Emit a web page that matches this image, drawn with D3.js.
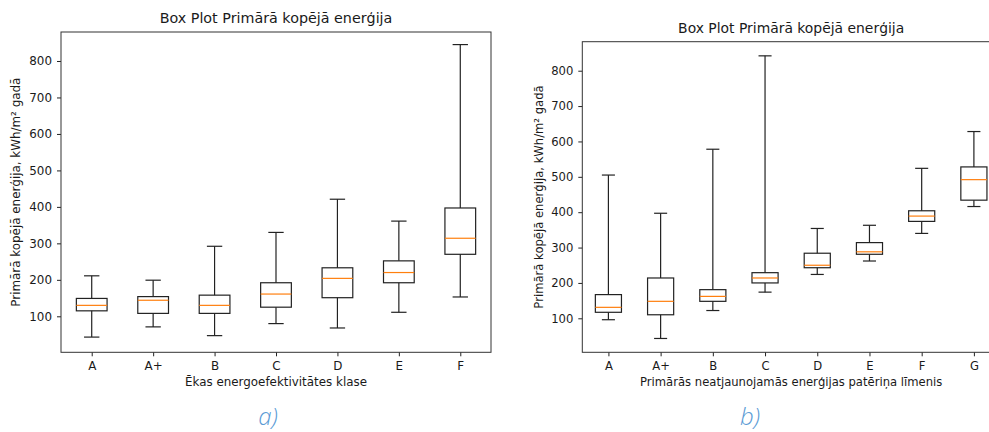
<!DOCTYPE html>
<html>
<head>
<meta charset="utf-8">
<script src="https://cdn.jsdelivr.net/npm/d3@7"></script>
<style>
  html, body { margin: 0; padding: 0; background: #fff; }
  svg { display: block; }
  text { font-family: "DejaVu Sans", sans-serif; fill: #1a1a1a; }
</style>
</head>
<body>
<svg id="chart" width="989" height="432"></svg>
<script>
// Panel a) — building energy-efficiency class
const classesA = ["A", "A+", "B", "C", "D", "E", "F"];
const minA = [43, 71, 47, 80, 68, 111, 153];
const q1A  = [115, 108, 108, 125, 151, 192, 270];
const medA = [130, 144, 130, 161, 204, 220, 314];
const q3A  = [149, 154, 158, 192, 233, 252, 397];
const maxA = [211, 199, 292, 330, 421, 361, 845];

// Panel b) — primary non-renewable energy consumption level
const classesB = ["A", "A+", "B", "C", "D", "E", "F", "G"];
const minB = [96, 43, 122, 174, 224, 262, 340, 416];
const q1B  = [117, 110, 148, 200, 243, 281, 374, 434];
const medB = [131, 148, 162, 214, 250, 288, 389, 492];
const q3B  = [167, 214, 181, 229, 284, 314, 404, 528];
const maxB = [505, 397, 578, 842, 354, 363, 524, 628];

const yTicks = [100, 200, 300, 400, 500, 600, 700, 800];

const title = "Box Plot Primārā kopējā enerģija";
const yLabel = "Primārā kopējā enerģija, kWh/m² gadā";
const xLabelA = "Ēkas energoefektivitātes klase";
const xLabelB = "Primārās neatjaunojamās enerģijas patēriņa līmenis";

const svg = d3.select("#chart");

function boxPanel(cfg) {
  const { left, right, top, bottom, yDomain, cats, mins, q1s, meds, q3s, maxs,
          titleY, xLabel, xLabelY, yLabelX, caption, captionX, fs, titleFs } = cfg;

  const g = svg.append("g");
  const n = cats.length;
  const x = d3.scaleLinear().domain([0.5, n + 0.5]).range([left, right]);
  const y = d3.scaleLinear().domain(yDomain).range([bottom, top]);
  const unit = x(2) - x(1);
  const boxW = unit * 0.5, capW = unit * 0.25;

  const rows = cats.map((c, i) => ({
    c, pos: i + 1, lo: mins[i], q1: q1s[i], med: meds[i], q3: q3s[i], hi: maxs[i]
  }));

  // axes
  const xAxis = d3.axisBottom(x)
    .tickValues(rows.map(r => r.pos))
    .tickFormat((d, i) => cats[i])
    .tickSize(4).tickPadding(5).tickSizeOuter(0);
  const yAxis = d3.axisLeft(y)
    .tickValues(yTicks).tickFormat(d3.format("d"))
    .tickSize(4).tickPadding(5).tickSizeOuter(0);

  const gx = g.append("g").attr("transform", `translate(0,${bottom})`).call(xAxis);
  const gy = g.append("g").attr("transform", `translate(${left},0)`).call(yAxis);
  [gx, gy].forEach(a => {
    a.select(".domain").remove();
    a.selectAll(".tick line").attr("stroke", "#222").attr("stroke-width", 1);
    a.selectAll(".tick text").attr("font-size", fs).attr("font-family", "DejaVu Sans").attr("fill", "#1a1a1a");
  });

  // whiskers, caps, boxes, medians
  const b = g.append("g").selectAll("g").data(rows).join("g");
  b.append("line")
    .attr("x1", d => x(d.pos)).attr("x2", d => x(d.pos))
    .attr("y1", d => y(d.lo)).attr("y2", d => y(d.q1));
  b.append("line")
    .attr("x1", d => x(d.pos)).attr("x2", d => x(d.pos))
    .attr("y1", d => y(d.q3)).attr("y2", d => y(d.hi));
  b.append("line")
    .attr("x1", d => x(d.pos) - capW / 2).attr("x2", d => x(d.pos) + capW / 2)
    .attr("y1", d => y(d.lo)).attr("y2", d => y(d.lo));
  b.append("line")
    .attr("x1", d => x(d.pos) - capW / 2).attr("x2", d => x(d.pos) + capW / 2)
    .attr("y1", d => y(d.hi)).attr("y2", d => y(d.hi));
  b.selectAll("line").attr("stroke", "#222").attr("stroke-width", 1.2);
  b.append("rect")
    .attr("x", d => x(d.pos) - boxW / 2).attr("width", boxW)
    .attr("y", d => y(d.q3)).attr("height", d => y(d.q1) - y(d.q3))
    .attr("fill", "none").attr("stroke", "#222").attr("stroke-width", 1.2);
  b.append("line")
    .attr("x1", d => x(d.pos) - boxW / 2).attr("x2", d => x(d.pos) + boxW / 2)
    .attr("y1", d => y(d.med)).attr("y2", d => y(d.med))
    .attr("stroke", "#ff7f0e").attr("stroke-width", 1.2);

  // frame
  g.append("rect")
    .attr("x", left).attr("y", top)
    .attr("width", right - left).attr("height", bottom - top)
    .attr("fill", "none").attr("stroke", "#333").attr("stroke-width", 1);

  // title and labels
  g.append("text").attr("x", (left + right) / 2).attr("y", titleY)
    .attr("text-anchor", "middle").attr("font-size", titleFs).text(title);
  g.append("text").attr("x", (left + right) / 2).attr("y", xLabelY)
    .attr("text-anchor", "middle").attr("font-size", fs).text(xLabel);
  g.append("text")
    .attr("transform", `translate(${yLabelX},${(top + bottom) / 2}) rotate(-90)`)
    .attr("text-anchor", "middle").attr("font-size", fs).text(yLabel);

  // panel caption
  g.append("text").attr("x", captionX).attr("y", 425)
    .attr("text-anchor", "middle")
    .style("font-family", "'Open Sans', 'Lato', sans-serif")
    .style("font-style", "italic").style("font-weight", 300)
    .attr("font-size", 24).style("fill", "#5b9bd5").text(caption);
}

boxPanel({
  left: 61, right: 491, top: 32, bottom: 352.3,
  yDomain: [1.3, 879.5],
  cats: classesA, mins: minA, q1s: q1A, meds: medA, q3s: q3A, maxs: maxA,
  titleY: 23, xLabel: xLabelA, xLabelY: 386, yLabelX: 19.5,
  caption: "a)", captionX: 268, fs: 11.9, titleFs: 14.3
});

boxPanel({
  left: 582.3, right: 1000, top: 41.7, bottom: 352.3,
  yDomain: [3.9, 882],
  cats: classesB, mins: minB, q1s: q1B, meds: medB, q3s: q3B, maxs: maxB,
  titleY: 33, xLabel: xLabelB, xLabelY: 386, yLabelX: 542.5,
  caption: "b)", captionX: 750, fs: 11.6, titleFs: 13.9
});
</script>
</body>
</html>
